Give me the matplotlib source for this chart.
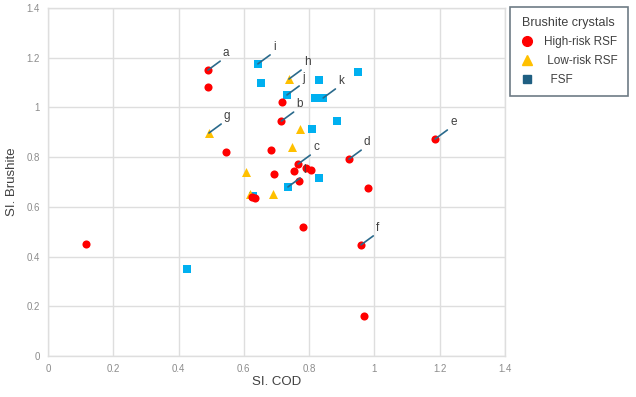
import matplotlib
matplotlib.use("Agg")
import matplotlib.pyplot as plt
from matplotlib.lines import Line2D
from matplotlib.ticker import FuncFormatter

plt.rcParams["font.family"] = ["Liberation Sans", "DejaVu Sans"]

# High-risk RSF (red circles)
high_x = [0.49, 0.49, 0.545, 0.717, 0.715, 0.683, 0.692, 0.766, 0.754, 0.79, 0.806,
          0.769, 0.625, 0.635, 0.78, 0.922, 0.98, 1.186, 0.959, 0.968, 0.116]
high_y = [1.15, 1.083, 0.82, 1.022, 0.945, 0.83, 0.732, 0.772, 0.744, 0.756, 0.748,
          0.704, 0.64, 0.635, 0.519, 0.792, 0.676, 0.873, 0.447, 0.161, 0.45]
high_lab = ["a", "", "", "", "b", "", "", "c", "", "", "",
            "", "", "", "", "d", "", "e", "f", "", ""]

# Low-risk RSF (yellow triangles)
low_x = [0.738, 0.493, 0.772, 0.748, 0.607, 0.619, 0.689]
low_y = [1.114, 0.897, 0.913, 0.841, 0.74, 0.652, 0.652]
low_lab = ["h", "g", "", "", "", "", ""]

# FSF (blue squares)
fsf_x = [0.643, 0.653, 0.732, 0.830, 0.950, 0.818, 0.843, 0.809, 0.885, 0.830, 0.735, 0.426, 0.628]
fsf_y = [1.175, 1.098, 1.05, 1.110, 1.142, 1.038, 1.038, 0.913, 0.945, 0.716, 0.68, 0.35, 0.644]
fsf_lab = ["i", "", "j", "", "", "", "k", "", "", "", "l", "", ""]

x_ticks = [0, 0.2, 0.4, 0.6, 0.8, 1.0, 1.2, 1.4]
y_ticks = [0, 0.2, 0.4, 0.6, 0.8, 1.0, 1.2, 1.4]

RED = "#ff0000"
YEL = "#ffc000"
BLU = "#00b0f0"
DARK = "#1f5f82"
LINE = "#2a6a8c"

fig = plt.figure(figsize=(6.36, 3.97), dpi=100)
ax = fig.add_axes([0.0755, 0.1033, 0.7185, 0.8767])

ax.scatter(fsf_x, fsf_y, marker="s", s=30, color=BLU, zorder=3, linewidths=0)
ax.scatter(low_x, low_y, marker="^", s=42, color=YEL, zorder=3, linewidths=0)
ax.scatter(high_x, high_y, marker="o", s=34, color=RED, zorder=4, linewidths=0)

for xs, ys, labs in [(high_x, high_y, high_lab), (low_x, low_y, low_lab), (fsf_x, fsf_y, fsf_lab)]:
    for x, y, l in zip(xs, ys, labs):
        if l:
            ax.annotate(l, xy=(x, y), xytext=(15, 11), textcoords="offset pixels",
                        ha="left", va="bottom", fontsize=8.5, color="#404040",
                        arrowprops=dict(arrowstyle="-", color=LINE, lw=1.2,
                                        shrinkA=0, shrinkB=0, relpos=(0, 0)),
                        zorder=5)

ax.set_xlim(0, 1.4)
ax.set_ylim(0, 1.4)
ax.set_xticks(x_ticks)
ax.set_yticks(y_ticks)
fmt = FuncFormatter(lambda v, p: f"{v:g}")
ax.xaxis.set_major_formatter(fmt)
ax.yaxis.set_major_formatter(fmt)
ax.tick_params(axis="both", length=0, labelsize=7, labelcolor="#8c8c8c", pad=6)
ax.grid(True, color="#dedede", lw=1)
ax.set_axisbelow(True)
for s in ax.spines.values():
    s.set_color("#dedede")
    s.set_linewidth(1)

ax.set_xlabel("SI. COD", fontsize=9.5, color="#404040", labelpad=1)
ax.set_ylabel("SI. Brushite", fontsize=9.5, color="#404040", labelpad=6)

handles = [
    Line2D([], [], marker="o", color=RED, linestyle="none", markersize=7),
    Line2D([], [], marker="^", color=YEL, linestyle="none", markersize=7),
    Line2D([], [], marker="s", color=DARK, linestyle="none", markersize=6),
]
labels = ["High-risk RSF", " Low-risk RSF", "  FSF"]
leg = fig.legend(handles, labels, title="Brushite crystals", loc="upper left",
                 bbox_to_anchor=(0.802, 0.982), fontsize=8.5, title_fontsize=9,
                 frameon=True, fancybox=False, borderpad=0.85, labelspacing=0.6,
                 handletextpad=0.8, handlelength=1.2, borderaxespad=0)
leg.get_frame().set_edgecolor("#4a5a66")
leg.get_frame().set_linewidth(1.2)
for t in leg.get_texts():
    t.set_color("#404040")
leg.get_title().set_color("#404040")

fig.savefig("out.png", dpi=100)
